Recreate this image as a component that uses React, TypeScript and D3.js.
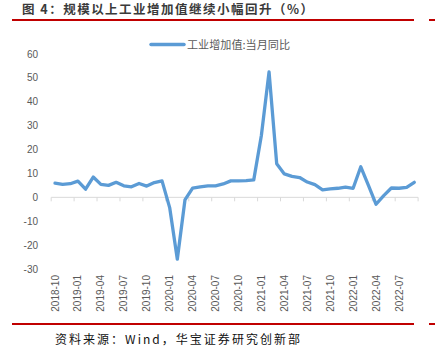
import React from "react";
import * as d3 from "d3";

const months: string[] = [
  "2018-10","2018-11","2018-12","2019-01","2019-02","2019-03","2019-04","2019-05","2019-06","2019-07","2019-08","2019-09",
  "2019-10","2019-11","2019-12","2020-01","2020-02","2020-03","2020-04","2020-05","2020-06","2020-07","2020-08","2020-09",
  "2020-10","2020-11","2020-12","2021-01","2021-02","2021-03","2021-04","2021-05","2021-06","2021-07","2021-08","2021-09",
  "2021-10","2021-11","2021-12","2022-01","2022-02","2022-03","2022-04","2022-05","2022-06","2022-07","2022-08","2022-09",
];

const values: number[] = [
  5.9, 5.4, 5.7, 6.8, 3.4, 8.5, 5.4, 5.0, 6.3, 4.8, 4.4, 5.8,
  4.7, 6.2, 6.9, -4.3, -25.9, -1.1, 3.9, 4.4, 4.8, 4.8, 5.6, 6.9,
  6.9, 7.0, 7.3, 26.0, 52.5, 14.1, 9.8, 8.8, 8.3, 6.4, 5.3, 3.1,
  3.5, 3.8, 4.3, 3.8, 12.8, 5.0, -2.9, 0.7, 3.9, 3.8, 4.2, 6.3,
];

const yTicks: number[] = [60, 50, 40, 30, 20, 10, 0, -10, -20, -30];
const xLabels: string[] = months.filter((_, i) => i % 3 === 0);

const title = "图 4：规模以上工业增加值继续小幅回升（%）";
const seriesName = "工业增加值:当月同比";
const source = "资料来源：Wind，华宝证券研究创新部";

export default function App() {
  const x = d3.scalePoint<string>().domain(months).range([55, 414.3]);
  const step = x.step();
  const y = d3.scaleLinear().domain([-30, 60]).range([269, 54]);
  const line = d3
    .line<number>()
    .x((_, i) => x(months[i]) as number)
    .y((d) => y(d));

  const tickIdx: number[] = d3.range(0, 17).map((k) => -0.5 + 3 * k);
  const x0 = x(months[0]) as number;
  const gray = "#595959";
  const red = "#c00000";
  const cjk = "'Noto Sans CJK SC', 'Noto Sans', sans-serif";
  const latin = "'Liberation Sans', Arial, sans-serif";

  return (
    <svg
      width={435}
      height={364}
      style={{ position: "absolute", left: 0, top: 0, background: "#fff" }}
    >
      <text
        x={22}
        y={13.5}
        fontFamily={cjk}
        fontWeight="bold"
        fontSize={12.5}
        fill="#3a3a3a"
        textLength={291}
        lengthAdjust="spacing"
      >
        {title}
      </text>
      <line x1={12} x2={414} y1={20} y2={20} stroke={red} strokeWidth={2} />
      <line x1={429} x2={435} y1={20} y2={20} stroke={red} strokeWidth={2} />

      {/* legend */}
      <line x1={151} x2={184} y1={44.5} y2={44.5} stroke="#5b9bd5" strokeWidth={3.5} strokeLinecap="round" />
      <text x={187} y={48.5} fontFamily={cjk} fontSize={11} fill={gray} textLength={103} lengthAdjust="spacingAndGlyphs">
        {seriesName}
      </text>

      {/* y axis labels */}
      {yTicks.map((t) => (
        <text key={t} x={38} y={y(t) + 3.5} textAnchor="end" fontFamily={latin} fontSize={10} fill={gray}>
          {t}
        </text>
      ))}

      {/* x axis line at zero */}
      <line
        x1={x0 - 0.5 * step}
        x2={x0 + 47.5 * step}
        y1={y(0)}
        y2={y(0)}
        stroke="#d9d9d9"
        strokeWidth={1}
      />
      {tickIdx.map((k) => (
        <line
          key={k}
          x1={x0 + k * step}
          x2={x0 + k * step}
          y1={y(0)}
          y2={y(0) + 4}
          stroke="#d9d9d9"
          strokeWidth={1}
        />
      ))}

      {/* x labels */}
      {xLabels.map((m) => {
        const xx = x(m) as number;
        return (
          <text
            key={m}
            transform={`translate(${xx + 3.5},275) rotate(-90)`}
            textAnchor="end"
            fontFamily={latin}
            fontSize={10}
            fill={gray}
          >
            {m}
          </text>
        );
      })}

      {/* series */}
      <path
        d={line(values) || ""}
        fill="none"
        stroke="#5b9bd5"
        strokeWidth={3.3}
        strokeLinejoin="round"
        strokeLinecap="round"
      />

      <line x1={12} x2={414} y1={324} y2={324} stroke={red} strokeWidth={2} />
      <line x1={429} x2={435} y1={324} y2={324} stroke={red} strokeWidth={2} />
      <text
        x={55}
        y={344}
        fontFamily={cjk}
        fontSize={12}
        fill="#111"
        textLength={245}
        lengthAdjust="spacing"
      >
        {source}
      </text>
    </svg>
  );
}
